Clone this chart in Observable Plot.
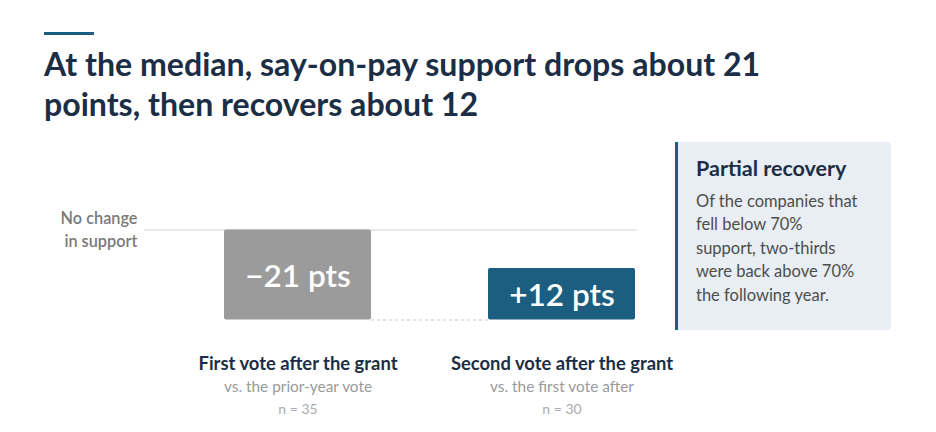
<!DOCTYPE html>
<html>
<head>
<meta charset="utf-8">
<script src="https://cdn.jsdelivr.net/npm/d3@7"></script>
<script src="https://cdn.jsdelivr.net/npm/@observablehq/plot@0.6"></script>
<style>
  html, body { margin: 0; padding: 0; background: #ffffff; }
  body { width: 936px; height: 432px; position: relative; overflow: hidden; font-family: Lato, "Noto Sans", sans-serif; }
  .accent { position: absolute; left: 44px; top: 32px; width: 50px; height: 3px; background: #1b5e80; }
  .title { position: absolute; left: 44px; top: 44px; margin: 0; font-size: 32.1px; line-height: 39.5px; font-weight: 700; color: #1b2e45; white-space: nowrap; }
  .callout { position: absolute; left: 675px; top: 142px; width: 213px; height: 188px; background: #e8eef3; border-left: 3px solid #1b5e80; border-radius: 0 4px 4px 0; }
  .callout-title { position: absolute; left: 696px; top: 154.5px; font-size: 21.5px; line-height: 26px; font-weight: 700; color: #1b2e45; white-space: nowrap; }
  .callout-body { position: absolute; left: 696px; top: 189.9px; font-size: 16.5px; line-height: 23.5px; color: #4d4d4d; white-space: nowrap; }
  #chart { position: absolute; left: 0; top: 140px; }
</style>
</head>
<body>
<div class="accent"></div>
<h1 class="title">At the median, say-on-pay support drops about 21<br>points, then recovers about 12</h1>
<div class="callout"></div>
<div class="callout-title">Partial recovery</div>
<div class="callout-body" id="calloutBody"></div>
<div id="chart"></div>
<script>
// ---- Data ----
const categories = ["First vote after the grant", "Second vote after the grant"];
const comparisons = ["vs. the prior-year vote", "vs. the first vote after"];
const sampleSizes = [35, 30];
const changes = [-21, 12];
const changeLabels = ["\u221221 pts", "+12 pts"];
const baselineLabel = ["No change", "in support"];
const calloutLines = ["Of the companies that", "fell below 70%", "support, two-thirds", "were back above 70%", "the following year."];

document.getElementById("calloutBody").innerHTML = calloutLines.join("<br>");

// Waterfall rows built from the changes
let running = 0;
const rows = categories.map((c, i) => {
  const start = running;
  running += changes[i];
  return {category: c, start, end: running, label: changeLabels[i], comparison: comparisons[i], n: `n = ${sampleSizes[i]}`};
});
const barColors = ["#9b9b9b", "#1b5e80"];

const chart = Plot.plot({
  width: 660,
  height: 292,
  marginLeft: 144,
  marginRight: 23.3,
  marginTop: 0,
  marginBottom: 0,
  style: {background: "transparent", fontFamily: "Lato, 'Noto Sans', sans-serif", overflow: "visible"},
  x: {type: "band", domain: categories, range: [223, 636], paddingInner: 0.4415, paddingOuter: 0, axis: null},
  y: {domain: [-21, 0], range: [179.5, 89.5], axis: null},
  marks: [
    Plot.ruleY([0], {stroke: "#d3d3d3", strokeWidth: 1}),
    Plot.text([baselineLabel.join("\n")], {frameAnchor: "left", y: 0, text: d => d, textAnchor: "end", lineAnchor: "middle", lineHeight: 1.436, dx: -7, dy: -2, fontSize: 16.3, fontWeight: 600, fill: "#7a7a7a"}),
    Plot.ruleY([rows[0]], {y: "end", x1: () => categories[1], x2: () => categories[0], stroke: "#c4c4c4", strokeWidth: 1, strokeDasharray: "3,3"}),
    Plot.barY(rows, {x: "category", y1: "start", y2: "end", fill: (d, i) => barColors[i], rx: 2}),
    Plot.text(rows, {x: "category", y: d => (d.start + d.end) / 2, text: "label", lineAnchor: "middle", dy: 2, fontSize: 31.5, fontWeight: 600, fill: "#ffffff"}),
    Plot.text(rows, {x: "category", y: () => -21, text: "category", lineAnchor: "bottom", dy: 49.5, fontSize: 18.4, fontWeight: 700, fill: "#1b2e45"}),
    Plot.text(rows, {x: "category", y: () => -21, text: "comparison", lineAnchor: "bottom", dy: 71.8, fontSize: 15.4, fill: "#9a9a9a"}),
    Plot.text(rows, {x: "category", y: () => -21, text: "n", lineAnchor: "bottom", dy: 94.3, fontSize: 14, fill: "#ababab"})
  ]
});
document.getElementById("chart").appendChild(chart);
</script>
</body>
</html>
